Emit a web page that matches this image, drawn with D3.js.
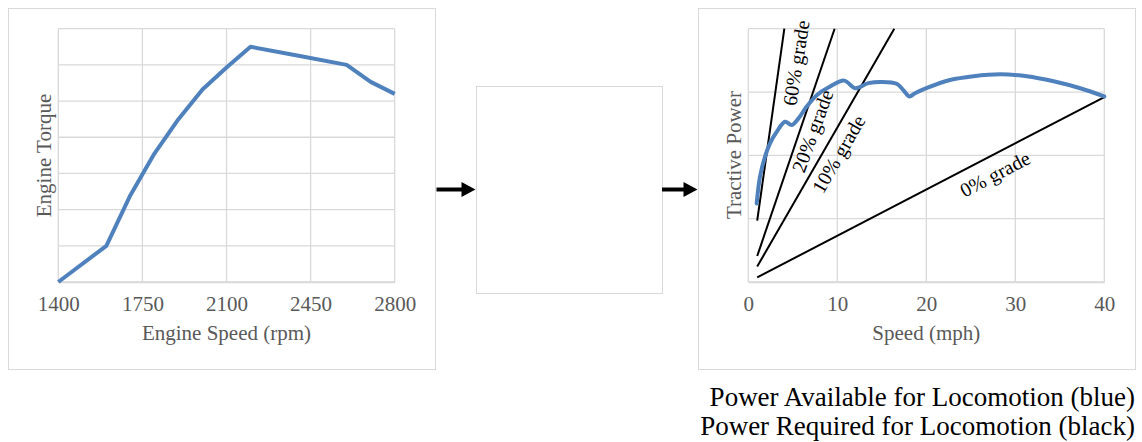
<!DOCTYPE html>
<html>
<head>
<meta charset="utf-8">
<script src="https://cdn.jsdelivr.net/npm/d3@7"></script>
<style>
  html, body { margin: 0; padding: 0; background: #fff; }
  svg { display: block; }
  text { font-family: "Liberation Serif", "Times New Roman", serif; }
</style>
</head>
<body>
<svg id="chart" width="1142" height="442"></svg>
<script>
// ---------- Data ----------
// Left chart: engine torque vs engine speed (arbitrary units)
const engineSpeed  = [1400, 1600, 1700, 1800, 1900, 2000, 2100, 2200, 2400, 2600, 2700, 2800];
const engineTorque = [0.0, 1.0, 2.4, 3.55, 4.5, 5.32, 5.93, 6.5, 6.25, 6.0, 5.53, 5.2];
const speedTicks = [1400, 1750, 2100, 2450, 2800];
const torqueGrid = [0, 1, 2, 3, 4, 5, 6, 7];

// Right chart: tractive power available (blue)
const mphAvail   = [0.94, 1.31, 1.88, 2.44, 3.19, 4.12, 4.88, 5.62, 6.56, 7.69, 8.99, 10.79, 11.99, 13.48, 14.99, 16.67, 17.42, 18.1, 18.73, 20.0, 22.66, 25.3, 28.3, 31.3, 34.3, 37.3, 40.0];
const powerAvail = [1.24, 1.66, 1.98, 2.19, 2.37, 2.53, 2.48, 2.58, 2.77, 2.95, 3.07, 3.18, 3.06, 3.14, 3.16, 3.13, 3.03, 2.93, 2.98, 3.06, 3.19, 3.25, 3.28, 3.25, 3.17, 3.06, 2.93];

// Power required at each grade (black lines): [speed, power] endpoints
const gradeNames = ["0% grade", "10% grade", "20% grade", "60% grade"];
const gradeSpeed = [[1, 40], [1, 16.4], [1, 9.7], [1, 4.05]];
const gradePower = [[0.073, 2.92], [0.244, 4.0], [0.41, 4.0], [0.97, 4.0]];
const mphTicks = [0, 10, 20, 30, 40];
const powerGrid = [0, 1, 2, 3, 4];

const bottomLines = ["Power Available for Locomotion (blue)", "Power Required for Locomotion (black)"];

// ---------- Drawing ----------
const svg = d3.select("#chart");
const gridColor = "#d9d9d9";
const textGray = "#595959";
const blue = "#4f81bd";
const fs = 21;

svg.append("rect").attr("width", 1142).attr("height", 442).attr("fill", "#fff");

// Outer frames
function frame(x0, y0, x1, y1) {
  svg.append("rect").attr("x", x0 + 0.5).attr("y", y0 + 0.5)
    .attr("width", x1 - x0).attr("height", y1 - y0)
    .attr("fill", "none").attr("stroke", gridColor).attr("stroke-width", 1);
}
frame(8, 8, 435, 369);
frame(476, 86, 662, 293);
frame(698, 8, 1135, 369);

// ---- Left chart ----
const xL = d3.scaleLinear().domain([1400, 2800]).range([58.3, 394.7]);
const yL = d3.scaleLinear().domain([0, 7]).range([282, 28.7]);
const gL = svg.append("g");

gL.selectAll("line.h").data(torqueGrid).join("line")
  .attr("x1", xL(1400)).attr("x2", xL(2800))
  .attr("y1", d => yL(d)).attr("y2", d => yL(d))
  .attr("stroke", gridColor).attr("stroke-width", 1.3);
gL.selectAll("line.v").data(speedTicks).join("line")
  .attr("class", "v")
  .attr("x1", d => xL(d)).attr("x2", d => xL(d))
  .attr("y1", yL(0)).attr("y2", yL(7))
  .attr("stroke", gridColor).attr("stroke-width", 1.3);

const axL = gL.append("g").attr("transform", `translate(0,${yL(0)})`)
  .call(d3.axisBottom(xL).tickValues(speedTicks).tickFormat(d3.format("d")).tickSize(0).tickPadding(14));
axL.select(".domain").attr("stroke", gridColor).attr("stroke-width", 1.3);
axL.selectAll("text").attr("fill", textGray).attr("font-size", fs)
  .attr("font-family", "Liberation Serif, serif");

gL.append("path")
  .datum(engineSpeed.map((s, i) => [s, engineTorque[i]]))
  .attr("fill", "none").attr("stroke", blue).attr("stroke-width", 4)
  .attr("stroke-linejoin", "round")
  .attr("d", d3.line().x(d => xL(d[0])).y(d => yL(d[1])));

gL.append("text").attr("x", (xL(1400) + xL(2800)) / 2).attr("y", 340)
  .attr("text-anchor", "middle").attr("fill", textGray).attr("font-size", fs)
  .text("Engine Speed (rpm)");
gL.append("text").attr("transform", "translate(51,155.5) rotate(-90)")
  .attr("text-anchor", "middle").attr("fill", textGray).attr("font-size", fs)
  .text("Engine Torque");

// ---- Arrows ----
function arrow(x0, x1, y) {
  svg.append("line").attr("x1", x0).attr("x2", x1 - 12).attr("y1", y).attr("y2", y)
    .attr("stroke", "#000").attr("stroke-width", 4);
  svg.append("path")
    .attr("d", `M${x1 - 14},${y - 7.5} L${x1},${y} L${x1 - 14},${y + 7.5} Z`)
    .attr("fill", "#000");
}
arrow(436.5, 475.5, 189.5);
arrow(662, 697.5, 189.5);

// ---- Right chart ----
const xR = d3.scaleLinear().domain([0, 40]).range([748.3, 1104.3]);
const yR = d3.scaleLinear().domain([0, 4]).range([282, 28.7]);
const gR = svg.append("g");

svg.append("clipPath").attr("id", "plotR").append("rect")
  .attr("x", xR(0)).attr("y", yR(4) - 1).attr("width", xR(40) - xR(0) + 4).attr("height", yR(0) - yR(4) + 2);

gR.selectAll("line.h").data(powerGrid).join("line")
  .attr("x1", xR(0)).attr("x2", xR(40))
  .attr("y1", d => yR(d)).attr("y2", d => yR(d))
  .attr("stroke", gridColor).attr("stroke-width", 1.3);
gR.selectAll("line.v").data(mphTicks).join("line")
  .attr("class", "v")
  .attr("x1", d => xR(d)).attr("x2", d => xR(d))
  .attr("y1", yR(0)).attr("y2", yR(4))
  .attr("stroke", gridColor).attr("stroke-width", 1.3);

const axR = gR.append("g").attr("transform", `translate(0,${yR(0)})`)
  .call(d3.axisBottom(xR).tickValues(mphTicks).tickFormat(d3.format("d")).tickSize(0).tickPadding(14));
axR.select(".domain").attr("stroke", gridColor).attr("stroke-width", 1.3);
axR.selectAll("text").attr("fill", textGray).attr("font-size", fs)
  .attr("font-family", "Liberation Serif, serif");

// Grade lines
const gradeG = gR.append("g").attr("clip-path", "url(#plotR)");
gradeNames.forEach((name, i) => {
  const pts = gradeSpeed[i].map((s, j) => [s, gradePower[i][j]]);
  gradeG.append("path").datum(pts)
    .attr("fill", "none").attr("stroke", "#000").attr("stroke-width", 2)
    .attr("d", d3.line().x(d => xR(d[0])).y(d => yR(d[1])));
});

// Power available curve
gR.append("path")
  .datum(mphAvail.map((s, i) => [s, powerAvail[i]]))
  .attr("fill", "none").attr("stroke", blue).attr("stroke-width", 4)
  .attr("stroke-linejoin", "round").attr("stroke-linecap", "round")
  .attr("d", d3.line().curve(d3.curveCatmullRom.alpha(0.5)).x(d => xR(d[0])).y(d => yR(d[1])));

// Grade labels (positioned along each line)
const labelPos = [
  { name: "0% grade",  cx: 995,   cy: 174,  angle: -27.5 },
  { name: "10% grade", cx: 838.5, cy: 154,  angle: -60 },
  { name: "20% grade", cx: 812.5, cy: 131,  angle: -70 },
  { name: "60% grade", cx: 796,   cy: 63,   angle: -81 }
];
gR.selectAll("text.grade").data(labelPos).join("text")
  .attr("class", "grade")
  .attr("transform", d => `translate(${d.cx},${d.cy}) rotate(${d.angle})`)
  .attr("text-anchor", "middle").attr("dominant-baseline", "central")
  .attr("font-size", 20).attr("fill", "#000")
  .text(d => d.name);

gR.append("text").attr("x", (xR(0) + xR(40)) / 2).attr("y", 340)
  .attr("text-anchor", "middle").attr("fill", textGray).attr("font-size", fs)
  .text("Speed (mph)");
gR.append("text").attr("transform", "translate(741,155) rotate(-90)")
  .attr("text-anchor", "middle").attr("fill", textGray).attr("font-size", fs)
  .text("Tractive Power");

// Bottom caption
svg.selectAll("text.caption").data(bottomLines).join("text")
  .attr("class", "caption")
  .attr("x", 1135).attr("y", (d, i) => 406 + i * 28.5)
  .attr("text-anchor", "end").attr("font-size", 27).attr("fill", "#000")
  .text(d => d);
</script>
</body>
</html>
